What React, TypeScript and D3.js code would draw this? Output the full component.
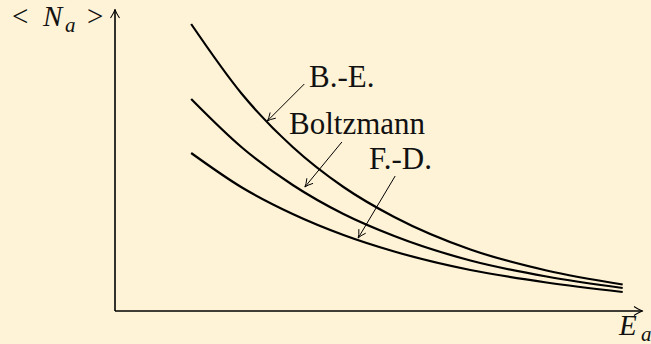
import React from "react";
import * as d3 from "d3";

// Energy values at which the occupation numbers are sampled
const energies = [1.5, 2.5, 3.5, 4.5, 5.5, 7.0, 8.5, 10.0];

// Mean occupation number <N_a> for each statistics
const boseEinstein = [5.74, 4.34, 3.28, 2.48, 1.88, 1.23, 0.81, 0.53];
const boltzmann = [4.24, 3.27, 2.52, 1.94, 1.5, 1.01, 0.69, 0.46];
const fermiDirac = [3.16, 2.47, 1.94, 1.52, 1.19, 0.82, 0.57, 0.38];

// Annotation labels and the point on each curve they point at
const labels = ["B.-E.", "Boltzmann", "F.-D."];
const labelTipE = [3.0, 3.74, 4.79];
const labelTipN = [3.8, 2.48, 1.46];

const W = 651;
const H = 344;
const BG = "#FFF3D7";
const serif: React.CSSProperties = { fontFamily: '"Liberation Serif", serif' };

function arrowHead(tx: number, ty: number, fx: number, fy: number, len: number, half: number) {
  const ang = Math.atan2(ty - fy, tx - fx);
  const cos = Math.cos(ang);
  const sin = Math.sin(ang);
  const pt = (a: number, b: number) => [tx - a * cos + b * sin, ty - a * sin - b * cos];
  const [l1x, l1y] = pt(len, half);
  const [c1x, c1y] = pt(len * 0.35, half * 0.15);
  const [l2x, l2y] = pt(len, -half);
  const [c2x, c2y] = pt(len * 0.35, -half * 0.15);
  return `M${l1x},${l1y} Q${c1x},${c1y} ${tx},${ty} Q${c2x},${c2y} ${l2x},${l2y}`;
}

export default function App() {
  const x = d3.scaleLinear().domain([0, 10.4]).range([115, 643]);
  const y = d3.scaleLinear().domain([0, 6.04]).range([311, 9]);

  const line = d3
    .line<number>()
    .x((_, i) => x(energies[i]))
    .y((d) => y(d))
    .curve(d3.curveMonotoneX);

  const series = [boseEinstein, boltzmann, fermiDirac];

  // tail offsets of the annotation arrows (px, relative to tip)
  const tails = [
    [37, -37],
    [37, -45],
    [37, -62],
  ];
  const textPos = [
    [309, 87],
    [289, 134],
    [369, 169],
  ];

  const x0 = x(0);
  const y0 = y(0);

  return (
    <svg
      width={W}
      height={H}
      style={{ position: "absolute", left: 0, top: 0, display: "block" }}
    >
      <rect width={W} height={H} fill={BG} />

      {/* axes */}
      <line x1={x0} y1={y0} x2={x(10.4) - 1} y2={y0} stroke="#000" strokeWidth={1.6} />
      <line x1={x0} y1={y0} x2={x0} y2={y(6.04) + 1} stroke="#000" strokeWidth={1.6} />
      <path d={arrowHead(x(10.4), y0, x0, y0, 9, 4.5)} fill="none" stroke="#000" strokeWidth={1.1} />
      <path d={arrowHead(x0, y(6.04), x0, y0, 9, 4.5)} fill="none" stroke="#000" strokeWidth={1.1} />

      {/* curves */}
      {series.map((s, i) => (
        <path key={i} d={line(s) || ""} fill="none" stroke="#000" strokeWidth={2.2} />
      ))}

      {/* annotations */}
      {labels.map((lab, i) => {
        const tx = x(labelTipE[i]);
        const ty = y(labelTipN[i]);
        const fx = tx + tails[i][0];
        const fy = ty + tails[i][1];
        return (
          <g key={lab}>
            <line x1={fx} y1={fy} x2={tx} y2={ty} stroke="#000" strokeWidth={1} />
            <path d={arrowHead(tx, ty, fx, fy, 8, 4)} fill="none" stroke="#000" strokeWidth={1} />
            <text x={textPos[i][0]} y={textPos[i][1]} fontSize={31} fill="#111" style={serif}>
              {lab}
            </text>
          </g>
        );
      })}

      {/* axis labels */}
      <text y={26} fontSize={29} fill="#111" style={serif}>
        <tspan x={12}>&lt;</tspan>
        <tspan x={43} fontStyle="italic">N</tspan>
        <tspan x={65} dy={6} fontSize={21} fontStyle="italic">a</tspan>
        <tspan x={87} dy={-6}>&gt;</tspan>
      </text>
      <text y={335} fontSize={29} fill="#111" style={serif}>
        <tspan x={619} fontStyle="italic">E</tspan>
        <tspan x={641} dy={6} fontSize={21} fontStyle="italic">a</tspan>
      </text>
    </svg>
  );
}
